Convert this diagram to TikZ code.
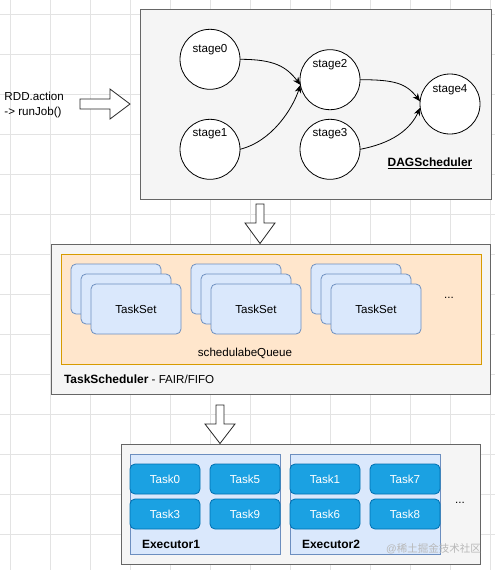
\documentclass[tikz,border=0pt]{standalone}
\usepackage{fontspec}
\setmainfont{Liberation Sans}
\newfontfamily\cjk{Noto Sans CJK SC}
\usetikzlibrary{arrows.meta}
\definecolor{gridc}{HTML}{E3E3E3}
\definecolor{panelfill}{HTML}{F5F5F5}
\definecolor{paneldraw}{HTML}{666666}
\definecolor{orfill}{HTML}{FFE6CC}
\definecolor{ordraw}{HTML}{D79B00}
\definecolor{blfill}{HTML}{DAE8FC}
\definecolor{bldraw}{HTML}{6C8EBF}
\definecolor{tkfill}{HTML}{1BA1E2}
\definecolor{tkdraw}{HTML}{006EAF}
\definecolor{wmark}{HTML}{B8B8B8}
\begin{document}
\begin{tikzpicture}[x=1pt,y=-1pt,
  every node/.append style={inner sep=0pt,outer sep=0pt,font=\fontsize{11.6}{14}\selectfont},
  panel/.style={draw=paneldraw,fill=panelfill,line width=0.8pt},
  queuebox/.style={draw=ordraw,fill=orfill,line width=0.8pt},
  stage/.style={circle,draw=black,fill=white,line width=0.8pt,minimum size=60pt},
  card/.style={draw=bldraw,fill=blfill,rounded corners=5pt,line width=0.8pt,minimum width=90pt,minimum height=50pt},
  execbox/.style={draw=bldraw,fill=blfill,line width=0.8pt},
  taskbox/.style={draw=tkdraw,fill=tkfill,rounded corners=5pt,line width=0.8pt,minimum width=70pt,minimum height=30pt,text=white},
  bigarrow/.style={draw=black!85,fill=white,line width=0.8pt,line join=miter},
  edge/.style={draw=black,line width=0.8pt,-{Stealth[length=8pt,width=6.5pt]}},
  boldlbl/.style={font=\fontsize{12}{14}\selectfont\bfseries}]
\useasboundingbox (0,0) rectangle (495,570);
\fill[white] (0,0) rectangle (495,570);
% grid
\foreach \gx in {10.5,50.5,...,490.5} \draw[gridc,line width=0.8pt] (\gx,0) -- (\gx,570);
\foreach \gy in {14.5,54.5,...,554.5} \draw[gridc,line width=0.8pt] (0,\gy) -- (495,\gy);

% ---------- DAGScheduler ----------
\node[panel,minimum width=351pt,minimum height=190pt] (dag) at (315.5,104) {};
\node[stage] (s0) at (210,59.3) {};
\node[stage] (s1) at (210,149.3) {};
\node[stage] (s2) at (330,79.7) {};
\node[stage] (s3) at (330,149.3) {};
\node[stage] (s4) at (450,104) {};
\node (l0) at (210,49.3) {stage0};
\node (l1) at (210,134) {stage1};
\node (l2) at (330,64.3) {stage2};
\node (l3) at (330,134) {stage3};
\node (l4) at (450,89.3) {stage4};
\draw[edge] (s0.east) .. controls +(35,0) and +(-14,-18) .. (s2.190);
\draw[edge] (s1.east) .. controls +(32,-8) and +(-8,24) .. (s2.190);
\draw[edge] (s2.east) .. controls +(35,0) and +(-14,-18) .. (s4.175);
\draw[edge] (s3.east) .. controls +(32,-6) and +(-10,22) .. (s4.187);
\node[boldlbl] (dagl) at (430,163.5) {\underline{DAGScheduler}};

% input text and arrow
\node[align=left,anchor=west,font=\fontsize{11.6}{15}\selectfont] (rdd) at (4.5,104.5) {RDD.action\\ -> runJob()};
\draw[bigarrow] (80,99) -- (110,99) -- (110,89) -- (130,104) -- (110,119) -- (110,109) -- (80,109) -- cycle;

% ---------- TaskScheduler ----------
\node[panel,minimum width=439pt,minimum height=150pt] (ts) at (270.5,319) {};
\node[queuebox,minimum width=420pt,minimum height=110pt] (q) at (271,309) {};
\foreach \i/\bx in {0/116,1/236,2/356} {
  \node[card] (c\i a) at (\bx,289) {};
  \node[card] (c\i b) at (\bx+10,299) {};
  \node[card] (c\i c) at (\bx+20,309) {TaskSet};
}
\node (qdots) at (449,298) {...};
\node (ql) at (245,353) {schedulabeQueue};
\node[anchor=west] (tsl) at (64,379) {{\fontsize{12}{14}\selectfont\bfseries TaskScheduler} - FAIR/FIFO};
\draw[bigarrow] (256,204) -- (264,204) -- (264,223) -- (275,223) -- (260,243.5) -- (245,223) -- (256,223) -- cycle;

% ---------- Executors ----------
\node[panel,minimum width=359pt,minimum height=120pt] (ex) at (300.5,504) {};
\node[execbox,minimum width=150pt,minimum height=100pt] (e1) at (205,504) {};
\node[execbox,minimum width=150pt,minimum height=100pt] (e2) at (365,504) {};
\node[taskbox] (t0) at (165,479) {Task0};
\node[taskbox] (t5) at (245,479) {Task5};
\node[taskbox] (t3) at (165,514) {Task3};
\node[taskbox] (t9) at (245,514) {Task9};
\node[taskbox] (t1) at (325,479) {Task1};
\node[taskbox] (t7) at (405,479) {Task7};
\node[taskbox] (t6) at (325,514) {Task6};
\node[taskbox] (t8) at (405,514) {Task8};
\node[boldlbl,anchor=west] (e1l) at (142,544) {Executor1};
\node[boldlbl,anchor=west] (e2l) at (302,544) {Executor2};
\node (edots) at (460,503) {...};
\draw[bigarrow] (216,405) -- (224,405) -- (224,424) -- (235,424) -- (220,443.5) -- (205,424) -- (216,424) -- cycle;

% watermark
\node[text=wmark,font=\fontsize{10.5}{12}\selectfont] (wm) at (433.5,549) {@{\cjk 稀土掘金技术社区}};
\end{tikzpicture}
\end{document}
